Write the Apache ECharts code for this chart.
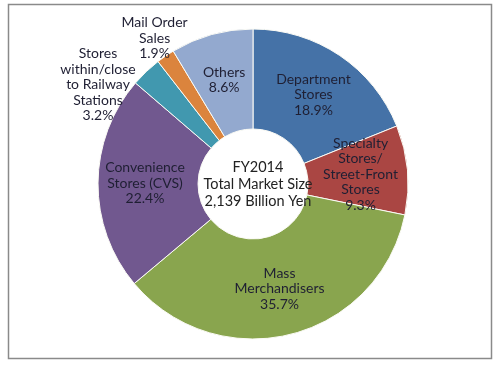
<!DOCTYPE html>
<html><head><meta charset="utf-8">
<script src="https://cdn.jsdelivr.net/npm/echarts@6/dist/echarts.min.js"></script>
<style>html,body{margin:0;padding:0;background:#fff}#c{width:502px;height:366px}</style>
</head><body><div id="c"></div>
<script>
// ---- data ----
const categories = [
  'Department\nStores',
  'Specialty\nStores/\nStreet-Front\nStores',
  'Mass\nMerchandisers',
  'Convenience\nStores (CVS)',
  'Stores\nwithin/close\nto Railway\nStations',
  'Mail Order\nSales',
  'Others'
];
const shares = [18.9, 9.3, 35.7, 22.4, 3.2, 1.9, 8.6];
const centerLines = ['FY2014', 'Total Market Size', '2,139 Billion Yen'];

// ---- style / layout ----
const colors = ['#4572A7', '#AA4643', '#89A54E', '#71588F', '#4198AF', '#DB843D', '#93A9CF'];
const CX = 253, CY = 184, R0 = 55, R = 155;
const FONT = 'Lato';
// outside label placement (angle from 12 o'clock clockwise, distance from centre)
const outerLabelPlace = { 4: [302.6, 184], 5: [326, 176] };

const chart = echarts.init(document.getElementById('c'), null, { renderer: 'canvas' });
const data = categories.map((name, i) => {
  const d = { name: name, value: shares[i], itemStyle: { color: colors[i] } };
  if (outerLabelPlace[i]) {
    d.label = { position: 'outside' };
    d.labelLine = { show: false };
  }
  return d;
});

chart.setOption({
  backgroundColor: '#fff',
  animation: false,
  graphic: [{
    type: 'rect', shape: { x: 8.5, y: 4.5, width: 483, height: 354 },
    style: { fill: null, stroke: '#8a8a8a', lineWidth: 1.5 }, silent: true
  }],
  title: {
    text: centerLines.join('\n'),
    left: CX, top: CY - 30, textAlign: 'center',
    textStyle: { fontFamily: FONT, fontSize: 14.5, fontWeight: 'normal', color: '#222', lineHeight: 17 }
  },
  series: [{
    type: 'pie',
    center: [CX, CY],
    radius: [R0, R],
    startAngle: 90,
    clockwise: true,
    avoidLabelOverlap: false,
    itemStyle: { borderColor: '#fbfbf5', borderWidth: 1 },
    label: {
      show: true, position: 'inside',
      formatter: p => p.name + '\n' + p.value.toFixed(1) + '%',
      fontFamily: FONT, fontSize: 14, color: '#1f1f33', lineHeight: 15.5
    },
    labelLine: { show: false },
    labelLayout: function (p) {
      const pl = outerLabelPlace[p.dataIndex];
      if (!pl) return {};
      const a = pl[0] * Math.PI / 180;
      return { x: CX + pl[1] * Math.sin(a), y: CY - pl[1] * Math.cos(a), align: 'center', verticalAlign: 'middle' };
    },
    data: data
  }]
});
</script></body></html>
